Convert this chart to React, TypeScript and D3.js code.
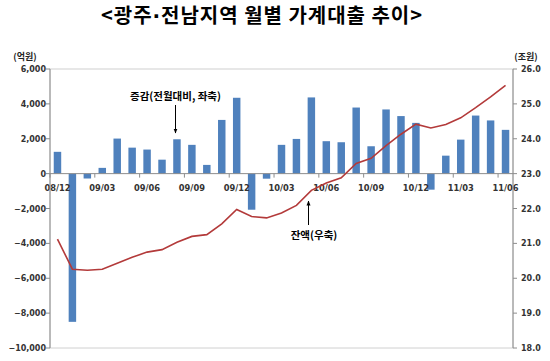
import React from "react";
import * as d3 from "d3";

const months = [
  "08/12",
  "09/01","09/02","09/03","09/04","09/05","09/06","09/07","09/08","09/09","09/10","09/11","09/12",
  "10/01","10/02","10/03","10/04","10/05","10/06","10/07","10/08","10/09","10/10","10/11","10/12",
  "11/01","11/02","11/03","11/04","11/05","11/06",
];
const tickMonths = ["08/12","09/03","09/06","09/09","09/12","10/03","10/06","10/09","10/12","11/03","11/06"];

// 증감(전월대비, 좌축) — 억원
const changeValues = [
  1250,
  -8500, -280, 330, 2010, 1490, 1380, 800, 1970, 1650, 500, 3080, 4350,
  -2070, -290, 1650, 1990, 4370, 1860, 1800, 3790, 1570, 3680, 3300, 2910,
  -920, 1030, 1950, 3330, 3050, 2510,
];
// 잔액(우축) — 조원
const balanceValues = [
  21.12,
  20.26, 20.23, 20.26, 20.43, 20.6, 20.75, 20.82, 21.03, 21.2, 21.25, 21.56, 21.97,
  21.77, 21.73, 21.87, 22.09, 22.52, 22.73, 22.88, 23.29, 23.44, 23.8, 24.13, 24.42,
  24.31, 24.41, 24.6, 24.89, 25.2, 25.53,
];
const leftTicks = [6000, 4000, 2000, 0, -2000, -4000, -6000, -8000, -10000];
const rightTicks = [26, 25, 24, 23, 22, 21, 20, 19, 18];

const W = 550, H = 361;
const L = 50, R = 513, T = 69, B = 348;

export default function App() {
  const x = d3.scaleBand<string>().domain(months).range([L, R]).padding(0);
  const step = x.step();
  const bw = step * 0.5;
  const yL = d3.scaleLinear().domain([-10000, 6000]).range([B, T]);
  const yR = d3.scaleLinear().domain([18, 26]).range([B, T]);
  const cx = (m: string) => (x(m) as number) + step / 2;
  const line = d3
    .line<number>()
    .x((_, i) => cx(months[i]))
    .y((d) => yR(d));
  const fmtL = d3.format(",");
  const fmtR = d3.format(".1f");
  const numFont = "'DejaVu Sans', sans-serif";
  const krFont = "'Noto Sans CJK KR', sans-serif";
  const axisColor = "#8c8c8c";
  const y0 = yL(0);
  const boundaryTicks = d3.range(0, months.length + 1, 3).map((k) => L + k * step);

  return (
    <svg width={W} height={H} style={{ position: "absolute", left: 0, top: 0, background: "#fff" }}>
      <defs>
        <marker id="arr" viewBox="0 0 10 10" refX="9" refY="5" markerWidth="5" markerHeight="5" orient="auto">
          <path d="M0,1 L10,5 L0,9 z" fill="#000" />
        </marker>
      </defs>
      <text
        x={101}
        y={23}
        textAnchor="start"
        fontFamily={krFont}
        fontWeight="bold"
        fontSize={20}
        fill="#000"
        textLength={321}
        lengthAdjust="spacing"
      >
        {"<광주"}
        <tspan fontFamily={numFont}>·</tspan>
        {"전남지역 월별 가계대출 추이>"}
      </text>
      <text x={25} y={60} textAnchor="middle" fontFamily={krFont} fontWeight="bold" fontSize={9} fill="#222">(억원)</text>
      <text x={526} y={60} textAnchor="middle" fontFamily={krFont} fontWeight="bold" fontSize={9} fill="#222">(조원)</text>

      {/* plot border */}
      <rect x={L} y={T} width={R - L} height={B - T} fill="none" stroke="#d0d0d0" strokeWidth={1} />

      {/* bars */}
      {changeValues.map((v, i) => (
        <rect
          key={months[i]}
          x={cx(months[i]) - bw / 2}
          y={Math.min(yL(v), y0)}
          width={bw}
          height={Math.abs(yL(v) - y0)}
          fill="#4F81BD"
        />
      ))}

      {/* zero axis */}
      <line x1={L} x2={R} y1={y0} y2={y0} stroke={axisColor} strokeWidth={1} />
      {boundaryTicks.map((bx, i) => (
        <line key={i} x1={bx} x2={bx} y1={y0} y2={y0 + 4} stroke={axisColor} />
      ))}
      {tickMonths.map((m) => (
        <text key={m} x={cx(m)} y={y0 + 17} textAnchor="middle" fontFamily={numFont} fontWeight="bold" fontSize={8.3} fill="#333">
          {m}
        </text>
      ))}

      {/* left axis */}
      <line x1={L} x2={L} y1={T} y2={B} stroke={axisColor} />
      {leftTicks.map((t) => (
        <g key={t}>
          <line x1={L - 4} x2={L} y1={yL(t)} y2={yL(t)} stroke={axisColor} />
          <text x={46} y={yL(t) + 3} textAnchor="end" fontFamily={numFont} fontWeight="bold" fontSize={8} fill="#333">
            {fmtL(t)}
          </text>
        </g>
      ))}

      {/* right axis */}
      <line x1={R} x2={R} y1={T} y2={B} stroke={axisColor} />
      {rightTicks.map((t) => (
        <g key={t}>
          <line x1={R} x2={R + 4} y1={yR(t)} y2={yR(t)} stroke={axisColor} />
          <text x={521} y={yR(t) + 3} textAnchor="start" fontFamily={numFont} fontWeight="bold" fontSize={8} fill="#333">
            {fmtR(t)}
          </text>
        </g>
      ))}

      {/* balance line */}
      <path d={line(balanceValues) || ""} fill="none" stroke="#B33A3A" strokeWidth={1.6} />

      {/* annotations */}
      <text x={175.5} y={100} textAnchor="middle" fontFamily={krFont} fontWeight="bold" fontSize={10.5} fill="#000">
        증감(전월대비, 좌축)
      </text>
      <line x1={175.5} x2={175.5} y1={105} y2={133} stroke="#000" strokeWidth={1} markerEnd="url(#arr)" />
      <text x={314} y={239} textAnchor="middle" fontFamily={krFont} fontWeight="bold" fontSize={10.5} fill="#000">
        잔액(우축)
      </text>
      <line x1={308.5} x2={308.5} y1={225} y2={201} stroke="#000" strokeWidth={1} markerEnd="url(#arr)" />
    </svg>
  );
}
